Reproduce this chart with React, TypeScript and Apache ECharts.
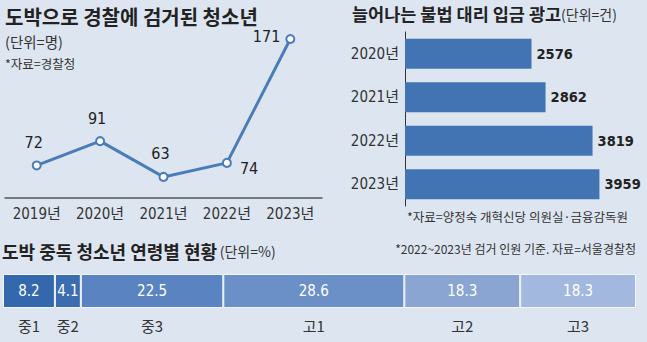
import React, { useEffect, useRef } from "react";
import * as echarts from "echarts";

const years = ["2019년", "2020년", "2021년", "2022년", "2023년"];
const arrests = [72, 91, 63, 74, 171];
const arrestLabelPos = ["top", "top", "top", "right", "left"];

const adYears = ["2020년", "2021년", "2022년", "2023년"];
const adCounts = [2576, 2862, 3819, 3959];

const grades = ["중1", "중2", "중3", "고1", "고2", "고3"];
const gradeShares = [8.2, 4.1, 22.5, 28.6, 18.3, 18.3];
const gradeColors = ["#3468ad", "#3b6db1", "#5a84c1", "#6b90c7", "#8ba5d2", "#a3b8de"];

const NUM = "'Liberation Sans Narrow', 'DejaVu Sans Condensed', 'Noto Sans CJK KR', sans-serif";
const KR = "'Noto Sans CJK KR', sans-serif";

export default function App() {
  const ref = useRef<HTMLDivElement>(null);
  useEffect(() => {
    const chart = echarts.init(ref.current!, null, { renderer: "svg" });
    const lineColor = "#4a7db8";
    const stackSeries: any[] = [];
    grades.forEach((g, i) => {
      stackSeries.push({
        type: "bar",
        xAxisIndex: 2,
        yAxisIndex: 2,
        stack: "g",
        barWidth: 34,
        data: [gradeShares[i]],
        itemStyle: { color: gradeColors[i], borderColor: "#f2f6fa", borderWidth: 1 },
        label: {
          show: true,
          position: "inside",
          formatter: () => String(gradeShares[i]),
          color: "#fff",
          fontSize: 15,
          fontFamily: NUM,
        },
      });
      stackSeries.push({
        type: "bar",
        xAxisIndex: 3,
        yAxisIndex: 3,
        stack: "n",
        barWidth: 20,
        data: [gradeShares[i]],
        itemStyle: { color: "transparent" },
        label: {
          show: true,
          position: "inside",
          formatter: () => g,
          color: "#333",
          fontSize: 15,
          fontFamily: KR,
        },
      });
    });

    chart.setOption({
      animation: false,
      backgroundColor: "#dde6f0",
      grid: [
        { left: 5, width: 317, top: 27.5, height: 170.5 },
        { left: 405, width: 221, top: 32, height: 174 },
        { left: 3, width: 633, top: 274, height: 34 },
        { left: 3, width: 633, top: 313, height: 24 },
      ],
      xAxis: [
        {
          gridIndex: 0,
          type: "category",
          data: years,
          boundaryGap: true,
          axisLine: { lineStyle: { color: "#555", width: 1.5 } },
          axisTick: { alignWithLabel: true, inside: true, length: 4, lineStyle: { color: "#555" } },
          axisLabel: { color: "#333", fontSize: 15, fontFamily: NUM, margin: 8 },
        },
        { gridIndex: 1, type: "value", min: 0, max: 4500, show: false },
        { gridIndex: 2, type: "value", min: 0, max: 100, show: false },
        { gridIndex: 3, type: "value", min: 0, max: 100, show: false },
      ],
      yAxis: [
        { gridIndex: 0, type: "value", min: 46.5, max: 180, show: false },
        {
          gridIndex: 1,
          type: "category",
          inverse: true,
          data: adYears,
          axisLine: { lineStyle: { color: "#333", width: 1 } },
          axisTick: { show: false },
          axisLabel: { color: "#333", fontSize: 15, fontFamily: NUM, margin: 6 },
        },
        { gridIndex: 2, type: "category", data: [""], show: false },
        { gridIndex: 3, type: "category", data: [""], show: false },
      ],
      series: [
        {
          type: "line",
          xAxisIndex: 0,
          yAxisIndex: 0,
          data: arrests.map((v, i) => ({
            value: v,
            label: {
              position: arrestLabelPos[i],
              offset: i === 3 ? [0, 6] : i === 4 ? [3, -2] : [-3, -2],
            },
          })),
          lineStyle: { color: lineColor, width: 3 },
          symbol: "circle",
          symbolSize: 8,
          itemStyle: { color: "#fff", borderColor: lineColor, borderWidth: 2 },
          label: {
            show: true,
            color: "#222",
            fontSize: 16,
            fontWeight: 500,
            fontFamily: NUM,
            distance: 8,
          },
        },
        {
          type: "bar",
          xAxisIndex: 1,
          yAxisIndex: 1,
          data: adCounts,
          barWidth: 30,
          itemStyle: { color: "#4274b4" },
          label: {
            show: true,
            position: "right",
            distance: 5,
            color: "#222",
            fontSize: 14.5,
            fontWeight: "bold",
            fontFamily: NUM,
          },
        },
        ...stackSeries,
      ],
      graphic: [
        {
          type: "text",
          left: 5,
          top: 6,
          style: { text: "도박으로 경찰에 검거된 청소년", fontSize: 20, fontWeight: "bold", fill: "#222", fontFamily: KR },
        },
        {
          type: "text",
          left: 5,
          top: 34,
          style: { text: "(단위=명)", fontSize: 14.5, fill: "#333", fontFamily: KR },
        },
        {
          type: "text",
          left: 5,
          top: 57,
          style: { text: "*자료=경찰청", fontSize: 12.5, fill: "#333", fontFamily: KR },
        },
        {
          type: "text",
          left: 352,
          top: 5,
          style: {
            text: "{a|늘어나는 불법 대리 입금 광고}{b|(단위=건)}",
            fontFamily: KR,
            rich: {
              a: { fontSize: 17.5, fontWeight: "bold", fill: "#222", fontFamily: KR },
              b: { fontSize: 14, fill: "#333", fontFamily: KR },
            },
          },
        },
        {
          type: "text",
          left: 407,
          top: 210,
          style: { text: "*자료=양정숙 개혁신당 의원실·금융감독원", fontSize: 12.5, fill: "#333", fontFamily: KR },
        },
        {
          type: "text",
          left: 2,
          top: 242,
          style: {
            text: "{a|도박 중독 청소년 연령별 현황} {b|(단위=%)}",
            fontFamily: KR,
            rich: {
              a: { fontSize: 18, fontWeight: "bold", fill: "#222", fontFamily: KR },
              b: { fontSize: 14, fill: "#333", fontFamily: KR },
            },
          },
        },
        {
          type: "text",
          right: 11,
          top: 242,
          style: { text: "*2022~2023년 검거 인원 기준. 자료=서울경찰청", fontSize: 12, fill: "#333", fontFamily: KR },
        },
      ],
    });
    return () => chart.dispose();
  }, []);
  return <div ref={ref} style={{ position: "fixed", left: 0, top: 0, width: 647, height: 342 }} />;
}
